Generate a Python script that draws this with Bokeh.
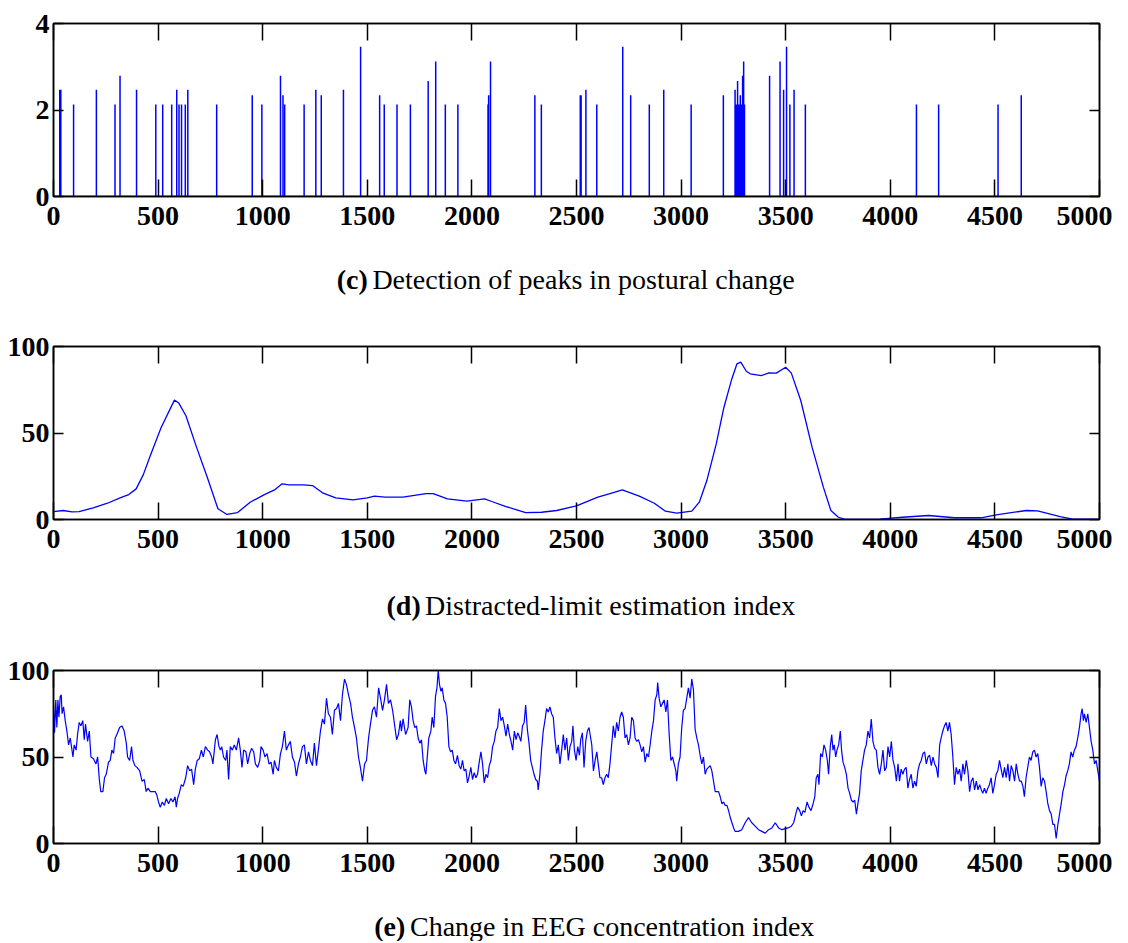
import numpy as np
from bokeh.plotting import figure
from bokeh.layouts import column
from bokeh.models import LinearAxis, FixedTicker, Range1d
from bokeh.core.properties import value
from bokeh.embed import file_html
from bokeh.resources import INLINE

# ---------------- data ----------------
x_ticks = [0, 500, 1000, 1500, 2000, 2500, 3000, 3500, 4000, 4500, 5000]
y_ticks_c = [0, 2, 4]
y_ticks_de = [0, 50, 100]

captions = [("(c)", "Detection of peaks in postural change"),
            ("(d)", "Distracted-limit estimation index"),
            ("(e)", "Change in EEG concentration index")]

# (c) peaks in postural change
peak_x = [30, 35, 96, 205, 294, 318, 397, 489, 522, 565, 589, 600, 612, 630, 642, 780,
          950, 996, 1085, 1097, 1105, 1198, 1254, 1280, 1386, 1468, 1559, 1581, 1642,
          1706, 1791, 1827, 1873, 1933, 2077, 2080, 2089, 2301, 2332, 2518, 2522, 2545,
          2597, 2721, 2759, 2848, 2917, 3048, 3202, 3258, 3263, 3270, 3277, 3283, 3287,
          3294, 3299, 3303, 3423, 3473, 3490, 3504, 3520, 3540, 3594, 4125, 4231, 4515, 4626]
peak_h = [2.47, 2.47, 2.13, 2.47, 2.13, 2.79, 2.47, 2.13, 2.13, 2.13, 2.47, 2.13, 2.13, 2.13, 2.47, 2.13,
          2.34, 2.13, 2.79, 2.34, 2.13, 2.13, 2.47, 2.34, 2.47, 3.46, 2.34, 2.13, 2.13,
          2.13, 2.67, 3.12, 2.13, 2.13, 2.13, 2.34, 3.12, 2.34, 2.13, 2.34, 2.34, 2.47,
          2.13, 3.46, 2.34, 2.13, 2.47, 2.13, 2.34, 2.47, 2.13, 2.67, 2.13, 2.34, 2.13,
          2.79, 3.12, 2.13, 2.79, 3.12, 2.47, 3.46, 2.13, 2.47, 2.13, 2.13, 2.13, 2.13, 2.34]

# (d) distracted-limit estimation index
dist_x = [0, 46, 88, 122, 190, 258, 327, 360, 395, 429, 463, 514, 578, 599, 633, 684, 735, 786,
          829, 880, 940, 1008, 1059, 1093, 1127, 1195, 1238, 1289, 1349, 1432, 1500, 1534, 1585,
          1670, 1781, 1815, 1883, 1976, 2061, 2095, 2163, 2257, 2333, 2405, 2500, 2602, 2656,
          2719, 2800, 2872, 2925, 2979, 3051, 3087, 3123, 3168, 3203, 3240, 3267, 3285, 3312,
          3330, 3384, 3420, 3455, 3500, 3527, 3572, 3626, 3680, 3716, 3752, 3788, 3950, 4057,
          4183, 4308, 4434, 4506, 4650, 4704, 4812, 4866, 5000]
dist_y = [4.6, 5.2, 4.4, 4.6, 6.7, 9.4, 12.9, 14.4, 17.7, 25.8, 37, 53, 69, 67.3, 60, 41.7, 24.4, 6.2,
          2.9, 4, 10, 14.4, 17.3, 20.6, 20, 20, 19.6, 15.2, 12.5, 11.3, 12.5, 13.5, 12.9,
          12.9, 15, 15, 11.9, 10.6, 11.9, 10.4, 7.5, 4, 4.2, 5.2, 7.9, 12.9, 14.8,
          17.1, 13.5, 9.4, 4.8, 3.7, 4.8, 10, 22.5, 43.7, 64, 80.3, 90, 91, 85.7,
          84.2, 83.2, 84.8, 84.6, 88, 84.6, 68.8, 41.8, 18.7, 5.2, 1.3, 0, 0.2, 1.3,
          2.3, 1, 1, 2.7, 5.2, 5, 1.7, 0.4, 0]

# (e) EEG concentration index (x, value) readings
eeg = [(0, 80), (5, 64), (11, 83), (16, 67), (21, 83), (26, 73), (32, 85), (37, 86), (41, 75), (48, 79),
       (56, 71), (64, 65), (72, 57), (80, 61), (86, 56), (93, 50), (99, 57), (108, 54), (115, 63), (123, 70),
       (131, 68), (140, 71), (147, 60), (153, 69), (163, 59), (171, 65), (179, 50), (191, 49), (203, 46),
       (211, 50), (219, 37), (226, 30), (236, 30), (244, 38), (252, 40), (263, 47), (271, 48), (279, 54),
       (287, 52), (295, 61), (303, 63), (316, 67), (327, 68), (338, 65), (348, 58), (354, 50), (364, 48),
       (373, 56), (380, 48), (389, 45), (399, 44), (412, 42), (423, 36), (434, 37), (443, 30), (451, 32),
       (463, 30), (475, 30), (486, 30), (494, 28), (502, 24), (510, 21), (520, 24), (530, 22), (539, 26),
       (550, 23), (561, 26), (571, 24), (581, 27), (587, 21), (593, 26), (601, 29), (611, 34), (620, 33),
       (632, 38), (641, 45), (651, 42), (660, 43), (670, 34), (678, 43), (687, 48), (697, 49), (707, 54),
       (716, 50), (726, 56), (737, 54), (746, 53), (756, 50), (762, 46), (774, 60), (782, 63), (791, 56),
       (798, 54), (804, 56), (813, 50), (823, 48), (829, 54), (837, 37), (845, 56), (855, 54), (864, 57),
       (874, 54), (885, 61), (893, 54), (901, 44), (909, 54), (920, 53), (928, 46), (938, 52), (947, 55),
       (957, 53), (965, 46), (976, 44), (986, 48), (992, 56), (1002, 54), (1011, 50), (1021, 52), (1030, 46),
       (1040, 47), (1050, 40), (1056, 48), (1065, 44), (1075, 42), (1085, 52), (1094, 56), (1104, 65),
       (1113, 54), (1123, 57), (1132, 59), (1142, 50), (1152, 47), (1161, 39), (1171, 46), (1180, 50),
       (1190, 56), (1199, 57), (1209, 46), (1219, 53), (1228, 48), (1238, 45), (1247, 58), (1257, 45),
       (1266, 54), (1276, 65), (1286, 72), (1295, 69), (1305, 84), (1314, 75), (1324, 73), (1333, 63),
       (1343, 77), (1353, 78), (1362, 81), (1372, 71), (1381, 86), (1391, 95), (1400, 92), (1410, 86),
       (1420, 81), (1429, 73), (1439, 67), (1448, 61), (1458, 50), (1467, 44), (1477, 36), (1487, 46),
       (1496, 48), (1506, 61), (1515, 69), (1525, 77), (1534, 79), (1544, 73), (1554, 90), (1563, 84),
       (1573, 77), (1582, 83), (1592, 92), (1601, 81), (1611, 83), (1621, 77), (1630, 69), (1640, 60),
       (1649, 63), (1658, 71),
       (1663, 65), (1671, 72), (1683, 63), (1695, 67), (1703, 83), (1711, 79), (1719, 71), (1727, 67),
       (1735, 68), (1743, 61), (1751, 58), (1759, 60), (1767, 48), (1775, 42), (1780, 40), (1788, 52),
       (1794, 61), (1804, 65), (1810, 73), (1818, 67), (1826, 85), (1833, 90), (1839, 100), (1845, 92),
       (1852, 88), (1858, 90), (1866, 83), (1874, 81), (1882, 73), (1890, 56), (1898, 53), (1906, 54),
       (1914, 48), (1922, 46), (1931, 51), (1939, 45), (1947, 43), (1955, 48), (1963, 42), (1971, 43),
       (1979, 35), (1987, 39), (1995, 44), (2003, 37), (2011, 41), (2019, 38), (2027, 40), (2035, 47),
       (2043, 53), (2051, 46), (2059, 35), (2067, 40), (2075, 38), (2083, 45), (2091, 48), (2099, 56),
       (2107, 59), (2115, 65), (2123, 67), (2131, 78), (2139, 71), (2147, 73), (2155, 68), (2163, 62),
       (2171, 69), (2179, 63), (2187, 59), (2195, 54), (2203, 65), (2211, 60), (2219, 64), (2226, 62),
       (2234, 59), (2242, 68), (2250, 70), (2257, 80), (2265, 66), (2273, 58), (2281, 48), (2289, 44),
       (2297, 40), (2305, 37), (2313, 36), (2317, 31), (2325, 40), (2333, 54), (2341, 65), (2349, 71),
       (2357, 78), (2365, 76), (2373, 79), (2381, 75), (2389, 73), (2397, 61), (2405, 52), (2413, 57),
       (2421, 46), (2429, 54), (2437, 63), (2445, 54), (2453, 61), (2461, 48), (2469, 56), (2477, 59),
       (2483, 68), (2490, 54), (2498, 48), (2506, 56), (2514, 51), (2520, 60), (2528, 64), (2536, 44),
       (2544, 59), (2552, 65), (2560, 67), (2565, 63), (2573, 57), (2581, 42), (2589, 48), (2597, 53),
       (2605, 45), (2612, 38), (2620, 38), (2628, 34), (2636, 38), (2644, 40), (2652, 38), (2660, 46),
       (2668, 57), (2676, 68), (2684, 61), (2692, 70), (2700, 65), (2708, 73), (2716, 76), (2724, 73),
       (2732, 61), (2740, 63), (2748, 57), (2756, 61), (2764, 73), (2772, 71), (2780, 61), (2788, 59),
       (2796, 60), (2804, 57), (2812, 53), (2820, 56), (2828, 47), (2836, 52), (2844, 50), (2852, 57),
       (2860, 65), (2868, 71), (2876, 83), (2884, 86), (2888, 93), (2895, 84), (2903, 79), (2911, 81),
       (2919, 83), (2927, 76), (2935, 83), (2943, 63), (2951, 48), (2959, 50), (2967, 46), (2975, 42),
       (2979, 36), (2987, 46), (2995, 50), (3003, 67), (3011, 77), (3019, 78), (3027, 84), (3035, 90),
       (3043, 84), (3051, 95), (3059, 89), (3067, 66), (3075, 61), (3083, 57), (3091, 51), (3099, 46),
       (3107, 50), (3115, 40), (3123, 43), (3131, 44), (3139, 45), (3147, 42), (3155, 36), (3163, 30),
       (3171, 30), (3179, 30), (3187, 27), (3195, 23), (3203, 24), (3211, 22), (3219, 22), (3227, 19),
       (3235, 15), (3243, 12), (3251, 9), (3258, 7), (3274, 7), (3290, 8), (3306, 12), (3322, 15),
       (3338, 12), (3354, 10), (3370, 8), (3386, 7), (3402, 6), (3418, 8), (3434, 9), (3450, 12),
       (3466, 9), (3482, 8),
       (3511, 9), (3527, 10), (3538, 12), (3548, 17), (3557, 21), (3567, 19), (3575, 16), (3583, 19),
       (3592, 18), (3602, 24), (3611, 21), (3621, 19), (3631, 23), (3639, 27), (3646, 38), (3654, 40),
       (3659, 34), (3667, 52), (3675, 50), (3683, 57), (3691, 54), (3699, 48), (3705, 40), (3713, 56),
       (3720, 63), (3726, 54), (3732, 57), (3739, 50), (3745, 54), (3753, 57), (3761, 65), (3767, 54),
       (3774, 47), (3782, 44), (3790, 40), (3798, 32), (3806, 29), (3814, 25), (3822, 24), (3830, 25),
       (3838, 17), (3845, 23), (3853, 29), (3861, 42), (3869, 48), (3877, 54), (3885, 57), (3893, 65),
       (3901, 61), (3909, 72), (3917, 59), (3925, 55), (3933, 54), (3941, 44), (3949, 40), (3957, 46),
       (3965, 54), (3973, 42), (3981, 44), (3989, 56), (3997, 50), (4005, 59), (4013, 48), (4021, 44),
       (4029, 36), (4037, 46), (4044, 36), (4052, 43), (4060, 40), (4068, 43), (4076, 44), (4084, 32),
       (4092, 37), (4100, 40), (4108, 32), (4116, 36), (4124, 33), (4132, 42), (4140, 46), (4148, 48),
       (4156, 52), (4164, 53), (4172, 46), (4180, 50), (4188, 51), (4196, 45), (4204, 50), (4212, 46),
       (4220, 44), (4228, 38), (4236, 57), (4243, 61), (4251, 65), (4259, 68), (4267, 70), (4275, 65),
       (4283, 70), (4291, 63), (4299, 50), (4307, 34), (4315, 44), (4323, 40), (4331, 43), (4339, 36),
       (4347, 46), (4355, 40), (4363, 48), (4371, 42), (4379, 30), (4387, 36), (4395, 38), (4403, 31),
       (4411, 36), (4419, 31), (4427, 34), (4435, 31), (4442, 29), (4450, 32), (4458, 29), (4466, 32),
       (4474, 34), (4482, 38), (4490, 29), (4498, 34), (4506, 40), (4514, 42), (4522, 48), (4530, 43),
       (4538, 38), (4546, 44), (4554, 38), (4562, 46), (4570, 36), (4578, 45), (4586, 42), (4594, 36),
       (4602, 46), (4610, 40), (4618, 36), (4626, 36), (4634, 33), (4641, 27), (4649, 38), (4657, 44),
       (4665, 50), (4673, 48), (4681, 53), (4689, 54), (4697, 50), (4705, 52), (4713, 44), (4721, 33),
       (4729, 38), (4737, 36), (4745, 30), (4753, 23), (4761, 19), (4769, 17), (4777, 11), (4785, 11),
       (4793, 3), (4801, 11), (4809, 17), (4817, 23), (4825, 30), (4833, 34), (4840, 39), (4848, 42),
       (4856, 46), (4864, 53), (4872, 50), (4880, 54), (4888, 56), (4896, 61), (4904, 67), (4912, 75),
       (4917, 78), (4923, 71), (4928, 75), (4936, 70), (4944, 75), (4952, 67), (4960, 59), (4968, 54),
       (4976, 46), (4984, 48), (4992, 42), (5000, 36)]

eeg_x = [p[0] for p in eeg]
eeg_y = [p[1] for p in eeg]

# ---------------- styling ----------------
W = 1112
TICK_FONT = "Liberation Serif"
CAP_FONT = "Liberation Serif"
BLUE = "#0000ff"


def make_axis(ticks, tick_in, labels, standoff=4):
    ax = LinearAxis(ticker=FixedTicker(ticks=ticks), major_tick_in=tick_in, major_tick_out=0,
                    minor_tick_line_color=None, axis_line_color="black", axis_line_width=1.5,
                    major_tick_line_color="black", major_tick_line_width=1.5)
    if labels:
        ax.major_label_text_font = TICK_FONT
        ax.major_label_text_font_size = "28px"
        ax.major_label_text_font_style = "bold"
        ax.major_label_text_color = "black"
        ax.major_label_standoff = standoff
    else:
        ax.major_label_text_font_size = "1px"
        ax.major_label_text_color = None
        ax.major_label_standoff = 0
    return ax


def panel(height, top, bottom, y_end, y_ticks):
    p = figure(width=W, height=height, x_range=Range1d(0, 5000), y_range=Range1d(0, y_end),
               x_axis_type=None, y_axis_type=None, output_backend="svg", toolbar_location=None,
               min_border_left=53, min_border_right=13, min_border_top=top, min_border_bottom=bottom)
    p.add_layout(make_axis(x_ticks, 17, True, standoff=10), "below")
    p.add_layout(make_axis(x_ticks, 17, False), "above")
    p.add_layout(make_axis(y_ticks, 10, True, standoff=4), "left")
    p.add_layout(make_axis(y_ticks, 10, False), "right")
    p.outline_line_color = "black"
    p.outline_line_width = 1.5
    p.background_fill_color = "white"
    p.border_fill_color = "white"
    return p


def caption(height, y, x0, offset, bold, rest):
    c = figure(width=W, height=height, x_range=Range1d(0, W), y_range=Range1d(height, 0),
               x_axis_type=None, y_axis_type=None, output_backend="svg", toolbar_location=None,
               min_border=0, outline_line_color=None)
    c.text(x=[x0], y=[y], text=[bold], text_font=value(CAP_FONT), text_font_style="bold",
           text_font_size="28px", text_baseline="alphabetic", text_align="left", text_color="black")
    c.text(x=[x0 + offset], y=[y], text=[rest], text_font=value(CAP_FONT),
           text_font_size="28px", text_baseline="alphabetic", text_align="left", text_color="black")
    return c


# panel (c): spikes drawn as one continuous signal
px = np.asarray(peak_x, dtype=float)
ph = np.asarray(peak_h, dtype=float)
zeros = np.zeros_like(px)
sig_x = np.concatenate([[x_ticks[0]], np.repeat(px, 3), [x_ticks[-1]]])
sig_y = np.concatenate([[0.0], np.column_stack([zeros, ph, zeros]).ravel(), [0.0]])

p1 = panel(238, 23, 42, y_ticks_c[-1], y_ticks_c)
p1.line(sig_x, sig_y, line_color=BLUE, line_width=1.5)
c1 = caption(82, 41, 301, 38, *captions[0])

p2 = panel(241, 26, 42, y_ticks_de[-1], y_ticks_de)
p2.line(dist_x, dist_y, line_color=BLUE, line_width=1.3)
c2 = caption(89, 44, 354, 41, *captions[1])

p3 = panel(235, 20, 42, y_ticks_de[-1], y_ticks_de)
p3.line(eeg_x, eeg_y, line_color=BLUE, line_width=1.2)
c3 = caption(56, 41, 341, 38, *captions[2])

layout = column(p1, c1, p2, c2, p3, c3, spacing=0)
open("out.html", "w").write(file_html(layout, INLINE))
